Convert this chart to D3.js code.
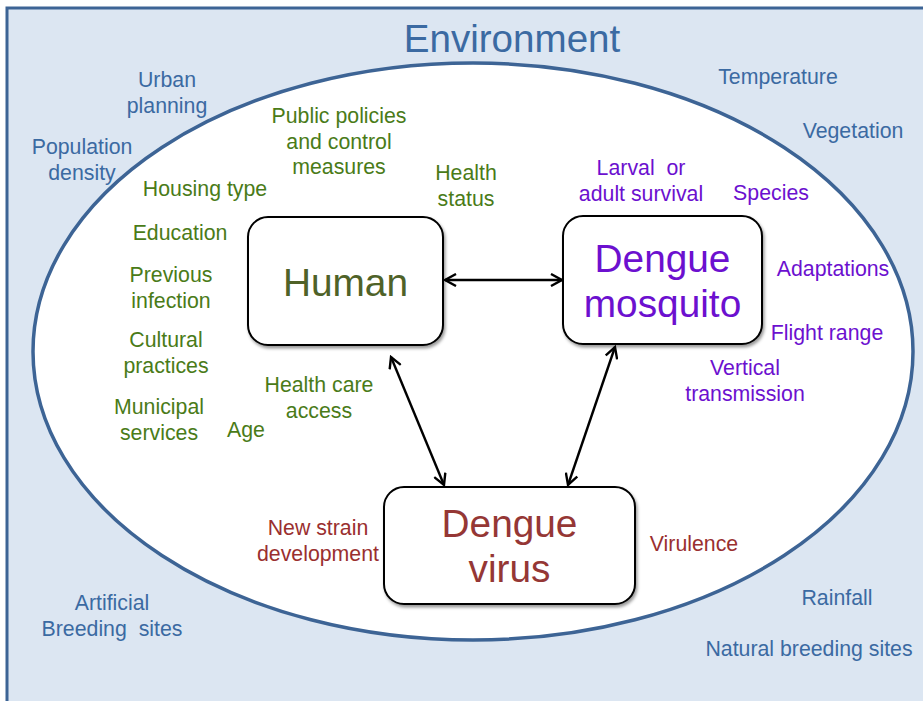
<!DOCTYPE html>
<meta charset="utf-8" />
<script src="https://d3js.org/d3.v7.js"></script>
<style>
  body { margin: 0; background: #fff; }
  text { font-family: "Liberation Sans", Arial, sans-serif; }
</style>
<div id="diagram"></div>
<script>
  // ---- data: labels of the diagram ("|" = line break) ----
  const title = "Environment";
  const nodes = ["Human", "Dengue|mosquito", "Dengue|virus"];
  const links = [
    ["Human", "Dengue|mosquito"],
    ["Human", "Dengue|virus"],
    ["Dengue|mosquito", "Dengue|virus"],
  ];
  const envFactors = ["Urban|planning", "Population|density", "Temperature", "Vegetation",
    "Artificial|Breeding  sites", "Rainfall", "Natural breeding sites"];
  const humanFactors = ["Public policies|and control|measures", "Health|status", "Housing type",
    "Education", "Previous|infection", "Cultural|practices", "Municipal|services", "Age",
    "Health care|access"];
  const mosquitoFactors = ["Larval  or|adult survival", "Species", "Adaptations", "Flight range",
    "Vertical|transmission"];
  const virusFactors = ["New strain|development", "Virulence"];

  // ---- layout (center x, first baseline y) ----
  const labelPos = {
    "Urban|planning": [167, 87], "Population|density": [82, 154], "Temperature": [778, 84],
    "Vegetation": [853, 138], "Artificial|Breeding  sites": [112, 610], "Rainfall": [837, 605],
    "Natural breeding sites": [809, 656],
    "Public policies|and control|measures": [339, 123], "Health|status": [466, 180],
    "Housing type": [205, 196], "Education": [180, 240], "Previous|infection": [171, 282],
    "Cultural|practices": [166, 347], "Municipal|services": [159, 414], "Age": [246, 437],
    "Health care|access": [319, 392],
    "Larval  or|adult survival": [641, 175], "Species": [771, 200], "Adaptations": [833, 276],
    "Flight range": [827, 340], "Vertical|transmission": [745, 375],
    "New strain|development": [318, 535], "Virulence": [694, 551],
  };
  const boxPos = {
    "Human": { x: 248, y: 217, w: 195, h: 128, ty: 296 },
    "Dengue|mosquito": { x: 563, y: 216, w: 199, h: 128, ty: 272 },
    "Dengue|virus": { x: 384, y: 487, w: 251, h: 117, ty: 537 },
  };
  const linkPos = [
    [[445, 280], [562, 280]],
    [[391, 357], [444, 485]],
    [[615, 347], [568, 485]],
  ];

  const cEnv = "#3b6aa2", cLine = "#3d6495";
  const cGreen = "#4a7b18", cHuman = "#4f6228";
  const cPurple = "#6c10cf", cRed = "#9a2f2f", cVirus = "#953735";

  const width = 923, height = 701;
  const svg = d3.select("#diagram").append("svg")
    .attr("width", width).attr("height", height);

  const defs = svg.append("defs");
  defs.append("marker")
    .attr("id", "arrow")
    .attr("viewBox", "0 0 14 14")
    .attr("refX", 12).attr("refY", 7)
    .attr("markerWidth", 14).attr("markerHeight", 14)
    .attr("markerUnits", "userSpaceOnUse")
    .attr("orient", "auto-start-reverse")
    .append("path")
    .attr("d", "M1,1 L12,7 L1,13")
    .attr("fill", "none").attr("stroke", "#000").attr("stroke-width", 2.4);

  const shadow = defs.append("filter").attr("id", "shadow")
    .attr("x", "-10%").attr("y", "-10%").attr("width", "125%").attr("height", "130%");
  shadow.append("feDropShadow").attr("dx", 1.5).attr("dy", 2.5)
    .attr("stdDeviation", 1.5).attr("flood-color", "#000").attr("flood-opacity", 0.4);

  // environment frame
  svg.append("rect")
    .attr("x", 7).attr("y", 8).attr("width", 940).attr("height", 720)
    .attr("fill", "#dce6f2").attr("stroke", cLine).attr("stroke-width", 3);

  svg.append("ellipse")
    .attr("cx", 473).attr("cy", 351.5).attr("rx", 440).attr("ry", 288.5)
    .attr("fill", "#fff").attr("stroke", cLine).attr("stroke-width", 3.5);

  svg.append("text")
    .attr("x", 512).attr("y", 52).attr("text-anchor", "middle")
    .style("font-size", "38.6px").style("fill", cEnv).text(title);

  function drawLabels(list, color) {
    list.forEach(function (d) {
      const p = labelPos[d];
      const t = svg.append("text")
        .attr("text-anchor", "middle")
        .style("font-size", "21.3px").style("fill", color)
        .attr("xml:space", "preserve");
      d.split("|").forEach(function (line, i) {
        t.append("tspan").attr("x", p[0]).attr("y", p[1] + i * 25.5).text(line);
      });
    });
  }
  drawLabels(envFactors, cEnv);
  drawLabels(humanFactors, cGreen);
  drawLabels(mosquitoFactors, cPurple);
  drawLabels(virusFactors, cRed);

  // arrows
  svg.selectAll("line.link")
    .data(links)
    .enter()
    .append("line")
    .attr("class", "link")
    .attr("x1", (d, i) => linkPos[i][0][0]).attr("y1", (d, i) => linkPos[i][0][1])
    .attr("x2", (d, i) => linkPos[i][1][0]).attr("y2", (d, i) => linkPos[i][1][1])
    .attr("stroke", "#000").attr("stroke-width", 2.4)
    .attr("marker-start", "url(#arrow)").attr("marker-end", "url(#arrow)");

  // boxes
  const nodeColor = { "Human": cHuman, "Dengue|mosquito": cPurple, "Dengue|virus": cVirus };
  const box = svg.selectAll("g.node")
    .data(nodes)
    .enter()
    .append("g")
    .attr("class", "node");

  box.append("rect")
    .attr("x", d => boxPos[d].x).attr("y", d => boxPos[d].y)
    .attr("width", d => boxPos[d].w).attr("height", d => boxPos[d].h)
    .attr("rx", 20).attr("ry", 20)
    .attr("fill", "#fff").attr("stroke", "#000").attr("stroke-width", 2)
    .attr("filter", "url(#shadow)");

  box.each(function (d) {
    const b = boxPos[d];
    const t = d3.select(this).append("text")
      .attr("text-anchor", "middle")
      .style("font-size", "38.8px").style("fill", nodeColor[d]);
    d.split("|").forEach(function (line, i) {
      t.append("tspan").attr("x", b.x + b.w / 2).attr("y", b.ty + i * 45).text(line);
    });
  });
</script>
